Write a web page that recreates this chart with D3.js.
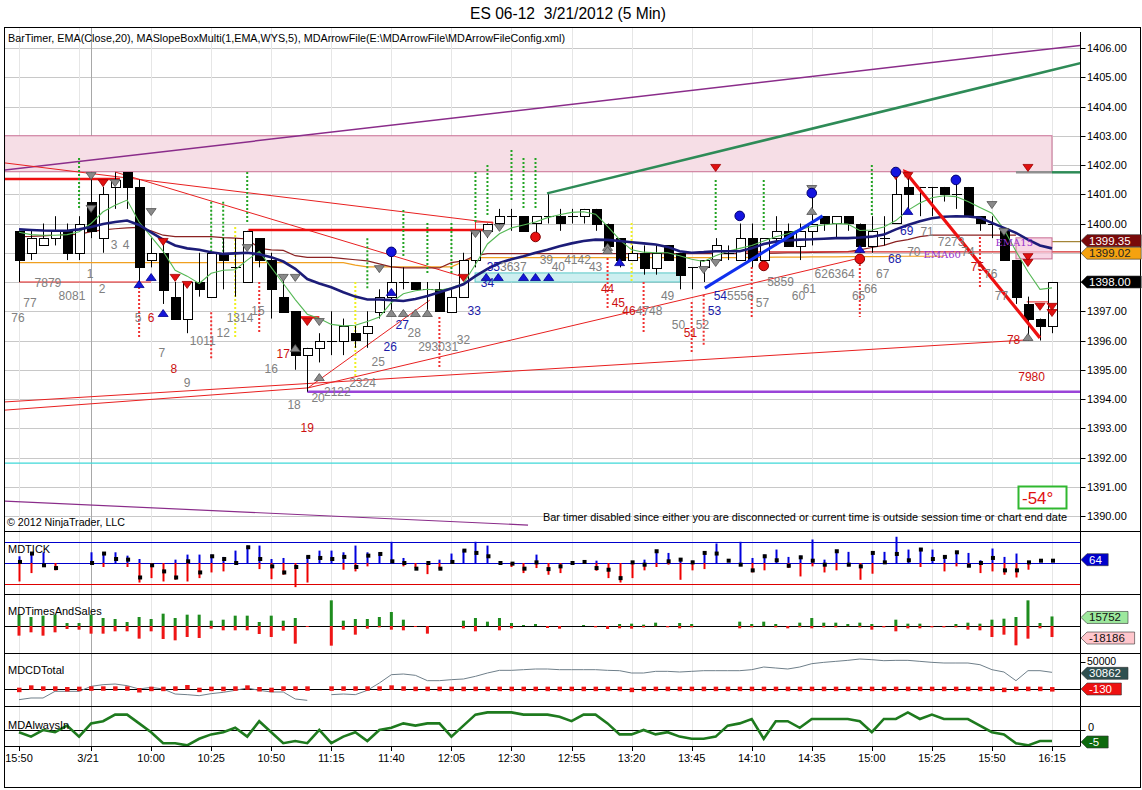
<!DOCTYPE html>
<html><head><meta charset="utf-8">
<script src="https://cdn.jsdelivr.net/npm/d3@7/dist/d3.min.js"></script>
<style>body{margin:0;background:#fff}svg{display:block;font-family:"Liberation Sans",Arial,sans-serif}</style>
</head><body><svg id="c" width="1142" height="790"></svg>
<script>
// ---------------- DATA ----------------
const tickIdx = [0,6,11,16,21,26,31,36,41,46,51,56,61,66,71,76,81,86];
const tickLbl = ["15:50","3/21","10:00","10:25","10:50","11:15","11:40","12:05","12:30","12:55","13:20","13:45","14:10","14:35","15:00","15:25","15:50","16:15"];
const gridIdx = [0,5,11,16,21,26,31,36,41,46,51,56,61,66,71,76,81,86];
const dayIdx = 6;
const priceTicks = [1390,1391,1392,1393,1394,1395,1396,1397,1398,1399,1400,1401,1402,1403,1404,1405,1406];
const priceLabelsHidden = [1398,1399];

const open  = [1399.75,1399.0,1399.25,1399.5,1399.75,1399.0,1400.75,1399.5,1401.25,1401.75,1401.25,1398.75,1399.0,1397.5,1396.75,1398.0,1397.5,1399.0,1398.5,1398.0,1399.5,1398.75,1397.5,1397.0,1395.5,1395.75,1396.0,1396.0,1396.25,1396.25,1397.0,1397.5,1398.0,1398.0,1397.75,1397.75,1397.0,1397.5,1398.75,1399.75,1400.0,1400.25,1400.25,1400.0,1400.25,1400.25,1400.25,1400.25,1400.5,1400.0,1399.5,1398.75,1399.0,1398.5,1399.25,1399.0,1398.5,1398.5,1398.75,1399.0,1398.75,1399.5,1398.75,1399.5,1399.75,1399.25,1399.75,1400.25,1400.0,1400.25,1400.0,1399.25,1399.5,1400.0,1401.25,1401.25,1401.25,1401.25,1401.0,1401.25,1400.25,1400.0,1399.75,1398.75,1397.25,1396.75,1396.5];
const high  = [1399.75,1399.75,1400.0,1400.25,1400.0,1400.25,1401.5,1401.25,1401.75,1401.75,1401.5,1399.5,1399.5,1398.0,1398.0,1399.0,1399.0,1399.5,1399.5,1399.75,1399.5,1399.0,1398.25,1397.0,1395.75,1396.25,1397.0,1396.75,1396.5,1397.0,1397.75,1399.0,1398.5,1398.0,1398.0,1398.0,1397.75,1399.0,1399.75,1400.0,1400.5,1400.5,1400.25,1400.25,1401.0,1400.5,1400.5,1400.5,1400.5,1400.0,1399.5,1399.25,1399.25,1399.25,1399.25,1399.0,1398.5,1398.75,1399.5,1399.25,1400.0,1400.0,1399.5,1400.25,1400.0,1400.0,1401.0,1400.25,1400.25,1400.25,1400.0,1400.25,1400.25,1401.75,1401.75,1401.25,1401.25,1401.25,1401.5,1401.25,1400.25,1400.25,1399.75,1398.75,1397.5,1396.75,1398.0];
const low   = [1398.0,1398.75,1399.25,1399.25,1398.75,1398.75,1399.5,1399.0,1400.5,1400.5,1398.0,1398.5,1397.25,1396.75,1396.25,1397.5,1397.5,1397.75,1397.5,1398.0,1398.5,1396.75,1397.0,1395.0,1394.25,1395.25,1395.5,1395.5,1395.75,1395.75,1396.75,1397.0,1397.75,1397.75,1397.0,1397.0,1397.0,1397.5,1398.5,1399.5,1399.75,1399.75,1399.75,1399.5,1400.0,1399.75,1400.0,1400.0,1399.75,1399.0,1398.5,1398.75,1398.25,1398.25,1398.75,1397.75,1397.75,1398.0,1398.75,1398.75,1398.75,1398.5,1398.5,1399.25,1399.25,1398.75,1399.25,1399.75,1399.5,1399.75,1399.0,1399.0,1399.25,1400.0,1400.5,1400.25,1400.25,1400.75,1400.5,1400.25,1399.75,1399.5,1398.75,1397.25,1396.0,1396.0,1396.25];
const close = [1398.75,1399.5,1399.5,1399.75,1399.0,1400.0,1399.75,1401.0,1401.5,1401.25,1398.5,1399.0,1397.75,1396.75,1398.0,1397.75,1399.0,1398.75,1398.5,1399.75,1398.75,1397.75,1397.0,1395.5,1395.75,1396.0,1396.0,1396.5,1396.0,1396.5,1397.5,1398.0,1398.0,1397.75,1397.75,1397.0,1397.5,1398.75,1399.75,1400.0,1400.25,1400.25,1399.75,1400.25,1400.25,1400.0,1400.25,1400.5,1400.0,1399.25,1398.75,1399.0,1398.5,1399.0,1398.75,1398.25,1398.5,1398.75,1399.25,1399.0,1399.5,1398.75,1399.5,1399.75,1399.25,1399.75,1400.0,1400.0,1400.25,1400.0,1399.25,1399.75,1399.5,1401.0,1401.0,1401.25,1401.25,1401.0,1401.0,1400.25,1400.0,1400.0,1398.75,1397.5,1396.75,1396.5,1398.0];

const emaSlow = [1399.80,1399.78,1399.76,1399.75,1399.75,1399.80,1399.88,1399.98,1400.05,1400.10,1399.95,1399.70,1399.45,1399.25,1399.15,1399.10,1399.02,1398.96,1398.98,1399.00,1398.95,1398.85,1398.70,1398.45,1398.10,1397.95,1397.82,1397.65,1397.50,1397.40,1397.40,1397.38,1397.35,1397.42,1397.52,1397.65,1397.78,1397.92,1398.20,1398.45,1398.65,1398.78,1398.88,1399.00,1399.10,1399.22,1399.32,1399.40,1399.45,1399.44,1399.40,1399.36,1399.32,1399.28,1399.20,1399.05,1399.00,1399.02,1399.05,1399.05,1399.05,1399.15,1399.30,1399.38,1399.42,1399.45,1399.46,1399.48,1399.50,1399.50,1399.52,1399.55,1399.62,1399.80,1399.95,1400.08,1400.18,1400.23,1400.25,1400.24,1400.20,1400.02,1399.85,1399.68,1399.45,1399.25,1399.15];
const emaFast = [1399.70,1399.62,1399.60,1399.60,1399.62,1399.72,1400.00,1400.40,1400.62,1400.80,1400.05,1399.55,1399.05,1398.40,1398.20,1397.95,1398.30,1398.40,1398.42,1398.75,1399.05,1398.50,1397.95,1397.40,1396.90,1396.75,1396.55,1396.50,1396.52,1396.65,1396.80,1397.30,1397.60,1397.70,1397.75,1397.72,1397.80,1397.95,1398.60,1399.30,1399.65,1399.85,1399.95,1400.05,1400.20,1400.30,1400.38,1400.40,1400.32,1399.90,1399.45,1399.10,1399.02,1399.00,1399.00,1398.90,1398.78,1398.70,1398.90,1399.05,1399.15,1399.25,1399.40,1399.55,1399.65,1399.80,1399.90,1399.95,1400.00,1399.98,1399.76,1399.78,1399.88,1400.10,1400.45,1400.70,1400.88,1400.95,1400.92,1400.75,1400.55,1400.35,1399.80,1399.05,1398.35,1397.75,1397.80];
const maroonLine = [1399.55,1399.56,1399.58,1399.60,1399.62,1399.63,1399.72,1399.78,1399.82,1399.85,1399.87,1399.75,1399.60,1399.55,1399.55,1399.55,1399.55,1399.52,1399.50,1399.47,1399.15,1399.10,1399.08,1398.90,1398.84,1398.84,1398.84,1398.80,1398.76,1398.72,1398.62,1398.52,1398.48,1398.48,1398.48,1398.48,1398.66,1398.72,1398.90,1398.97,1398.97,1398.97,1398.97,1398.97,1398.97,1398.97,1398.97,1398.97,1398.97,1398.97,1398.97,1398.97,1398.97,1398.97,1398.97,1398.97,1398.97,1398.97,1398.97,1398.97,1398.97,1398.98,1398.98,1398.99,1399.00,1399.00,1399.01,1399.02,1399.03,1399.04,1399.10,1399.18,1399.25,1399.38,1399.45,1399.55,1399.60,1399.60,1399.60,1399.60,1399.60,1399.60,1399.60,1399.60,null,null,null];
const orangeLine = [1398.66,1398.66,1398.66,1398.66,1398.66,1398.66,1398.66,1398.66,1398.66,1398.66,1398.66,1398.66,1398.66,1398.66,1398.66,1398.66,1398.66,1398.66,1398.66,1398.66,1398.66,1398.66,1398.66,1398.66,1398.66,1398.66,1398.66,1398.66,1398.58,1398.52,1398.52,1398.52,1398.52,1398.52,1398.52,1398.52,1398.52,1398.70,1398.83,1398.83,1398.83,1398.83,1398.83,1398.83,1398.83,1398.83,1398.83,1398.83,1398.83,1398.83,1398.83,1398.83,1398.83,1398.83,1398.83,1398.83,1398.83,1398.83,1398.83,1398.83,1398.83,1398.84,1398.84,1398.85,1398.85,1398.85,1398.86,1398.86,1398.86,1398.87,1398.87,1398.87,1398.87,1398.88,1398.88,1398.88,1398.88,1398.88];
const redLevel = {from:60, to:86, price:1399.03};

// MDTICK
const tickHi = [320,510,510,0,null,null,510,510,510,350,190,0,0,160,400,400,400,290,590,830,830,190,240,0,350,590,590,510,830,510,510,1010,240,0,0,160,450,640,1010,830,0,0,0,400,0,0,0,0,110,0,0,0,160,610,480,240,110,510,930,0,1010,240,400,640,290,350,1120,160,610,530,0,510,530,1250,640,720,640,320,560,480,130,690,290,450,0,0,0];
const tickLo = [-880,-480,0,-350,null,null,0,-190,0,-190,-930,-720,-880,-800,-880,-720,-450,-400,0,0,-290,-770,-560,-1150,-930,0,0,-320,-400,-160,0,0,-160,-240,-530,-290,0,0,0,0,0,-190,-480,-240,-560,-480,0,0,-370,-720,-930,-720,-350,-190,-80,-800,-350,-290,0,0,-130,-450,-350,0,-240,-640,-160,-450,-350,-160,-800,-510,0,0,0,-190,0,-400,-160,-190,-480,-400,-560,-690,-320,0,0];
const tickClose = [50,450,-110,-240,null,null,0,450,190,160,-690,-110,-400,-690,80,-450,320,190,0,750,190,-160,-450,-190,290,240,190,290,-190,350,430,80,0,-270,0,-270,50,590,480,320,0,-30,-270,30,-290,-160,0,50,-240,-320,-720,30,-80,560,80,160,30,480,450,110,-80,-350,320,130,-130,270,110,-80,560,-80,-160,480,30,430,130,640,190,290,510,-130,0,240,-350,-350,30,110,110];
// MDTimesAndSales
const tsBuy  = [18700,14850,17050,18700,4950,4950,18700,13200,11550,6600,14850,11550,20350,13200,18700,18700,8800,10450,17050,17050,6600,17050,8800,13200,0,0,42350,8800,11550,11550,14850,23100,10450,0,0,0,0,8800,13200,7150,13200,4950,1650,3300,0,0,0,1650,0,0,3300,3850,2200,5500,0,4950,3300,0,0,0,7150,3300,7150,3300,0,5500,13200,5500,5500,3300,5500,3300,0,10450,3850,3850,0,0,3300,5500,3850,10450,12100,14850,42350,4950,15752];
const tsSell = [-15950,-10450,-15950,-10450,-4950,-6050,-12650,-12650,-8800,-8800,-20900,-8800,-21450,-23650,-18150,-19800,-4400,-7150,-7150,-7150,-13200,-18150,-7700,-29150,-1650,0,-32450,-6050,-14300,-4400,-2200,-6050,-7150,-1650,-12650,0,0,-3850,-8800,0,-7150,-3850,0,0,-3300,-4400,0,0,-2200,-4950,-3850,-4400,-2200,-550,-2200,-3850,-2200,0,0,0,-3850,-2200,-550,-2200,-3850,-2200,-3850,-2200,-2200,-550,-2200,-6050,-2200,-8800,-3850,-3850,-2200,-2200,-2200,-6050,-7150,-18150,-14300,-31900,-20900,-3850,-18186];
// MDCDTotal
const cdTotal = [-19750,-16660,-16660,-4320,-4320,-4320,4940,8020,9260,6170,0,3090,0,-9260,-10490,-12340,-8640,-6170,-2470,1850,-2470,-5550,-5550,-18510,-20980,null,-10490,-9260,-10490,-2470,11110,26530,27770,25300,15430,15430,17280,18510,23450,29620,34550,34550,35790,37020,37020,35790,35790,35790,35790,34550,33940,29620,29620,32700,32700,31470,32700,33940,33940,33940,33940,35790,40720,38870,37020,40720,46890,49360,51210,53060,55530,54300,52450,53060,53060,51210,49360,48130,48130,48130,45040,35790,31470,15430,33940,33940,30862];
const cdDelta = [-1230,3090,1230,1230,0,620,1230,1230,1230,1230,-1850,620,620,1230,3700,-1230,620,620,1230,3090,0,-1230,1230,1230,1230,null,1230,1230,1230,1230,1230,3090,1230,620,620,620,620,620,620,620,620,620,620,620,620,620,620,620,620,620,620,-1230,620,620,620,620,620,620,620,620,620,620,620,620,620,620,620,620,620,620,620,620,620,620,620,620,620,620,620,620,620,620,-1230,620,620,620,-130];
// MDAlwaysIn
const alwaysIn = [-1,-3,0,-1,2,-3,3,4,7,7,3,-1,-6,-6,-7,-4,-2,-1,1,-3,4,-1,-6,-5,-6,0,-6,-3,-1,-5,0,1,3,2,3,3,-3,2,7,8,8,8,7,7,7,6,4,7,7,3,-2,-2,0,-2,-1,-3,-4,-4,-3,2,3,5,-4,4,4,1,5,5,5,5,4,-1,5,5,8,5,7,5,5,5,2,-1,-2,-6,-7,-5,-5];

// Signals [barIndex, price]
const dotsGreen = [[5,1402.24,1400.53],[16,1400.74,1399.03],[17,1400.74,1399.03],[19,1401.76,1400.05],[29,1399.50,1397.79],[32,1400.46,1398.82],[34,1400.02,1398.31],[36,1400.02,1398.31],[38,1401.76,1400.05],[39,1402.0,1400.29],[41,1402.51,1400.80],[42,1402.24,1400.53],[43,1402.24,1400.53],[58,1401.49,1399.78],[62,1401.49,1399.78],[71,1402.0,1400.29]];
const dotsRed = [[10,1397.83,1396.09],[16,1396.97,1395.33],[20,1398.0,1396.29],[35,1396.80,1395.09],[49,1398.82,1397.04],[52,1398.0,1396.29],[56,1397.32,1395.61],[57,1397.56,1395.85],[61,1398.51,1396.80],[70,1398.75,1396.80],[80,1399.54,1397.83]];
const dotsYellow = [[18,1399.88,1396.05],[28,1398.0,1394.75],[51,1400.02,1398.0]];
const blueDots = [[31,1399.03],[60,1400.26],[66,1401.04],[73,1401.76],[78,1401.49]];
const redDots = [[43,1399.54],[62,1398.55],[70,1398.79]];
const triDownGray = [[6,1401.62],[6,1400.50],[8,1401.38],[11,1400.39],[19,1399.16],[22,1398.14],[23,1398.14],[25,1396.63],[30,1398.44],[38,1399.64],[39,1399.64],[40,1399.85],[57,1398.41],[58,1398.65],[66,1401.18],[81,1400.63],[82,1399.71]];
const triDownRed = [[7,1401.38],[12,1399.37],[13,1398.14],[14,1397.90],[24,1396.63],[37,1398.14],[58,1401.90],[73,1401.62],[74,1401.62],[84,1401.90],[84,1398.85],[84,1398.65],[85,1397.15],[86,1397.15],[86,1396.94]];
const triUpBlue = [[10,1397.93],[11,1398.17],[12,1396.94],[31,1397.66],[50,1398.68],[70,1399.13],[74,1400.43],[38.9,1398.17],[39.9,1398.17],[42,1398.17],[43,1398.17],[44.1,1398.17]];
const triUpGray = [[23,1395.74],[25,1394.75],[31,1396.94],[32,1396.94],[33,1396.94],[34,1396.94],[49,1399.20],[49,1399.09],[66,1400.43],[84,1396.12]];

// bar-number labels [barIndex, price, [text,colour]...]
const barLabels = [
 [-0.08,1396.77,[["76","g"]]],[0.92,1397.28,[["77","g"]]],[2.41,1397.97,[["7879","g"]]],[4.41,1397.52,[["8081","g"]]],
 [5.91,1398.27,[["1","g"]]],[6.91,1397.76,[["2","g"]]],[7.91,1399.26,[["3","g"]]],[8.91,1399.26,[["4","g"]]],
 [9.91,1396.77,[["5","g"]]],[10.99,1396.77,[["6","r"]]],[11.9,1395.57,[["7","g"]]],[12.9,1395.03,[["8","r"]]],
 [14.0,1394.55,[["9","g"]]],[15.3,1395.98,[["1011","g"]]],[17.0,1396.26,[["12","g"]]],[18.4,1396.77,[["1314","g"]]],
 [19.9,1397.0,[["15","g"]]],[21.0,1395.03,[["16","g"]]],[22.0,1395.54,[["17","r"]]],[22.9,1393.8,[["18","g"]]],
 [24.0,1393.0,[["19","r"]]],[24.9,1394.03,[["20","g"]]],[26.5,1394.24,[["2122","g"]]],[28.6,1394.55,[["2324","g"]]],
 [29.9,1395.26,[["25","g"]]],[30.9,1395.78,[["26","b"]]],[31.9,1396.53,[["27","b"]]],[32.9,1396.26,[["28","g"]]],
 [34.9,1395.78,[["293031","g"]]],[37.0,1396.02,[["32","g"]]],[37.9,1397.0,[["33","b"]]],[39.0,1397.97,[["34","b"]]],
 [40.6,1398.51,[["35","b"],["3637","g"]]],[43.9,1398.75,[["39","g"]]],[44.9,1398.51,[["40","g"]]],[46.5,1398.75,[["4142","g"]]],
 [48.0,1398.51,[["43","g"]]],[49.0,1397.76,[["44","r"]]],[49.9,1397.28,[["45","r"]]],[51.9,1397.0,[["46","r"],["4748","g"]]],
 [54.0,1397.52,[["49","g"]]],[54.9,1396.53,[["50","g"]]],[55.9,1396.26,[["51","r"]]],[56.9,1396.53,[["52","g"]]],
 [57.9,1397.0,[["53","b"]]],[59.5,1397.52,[["54","b"],["5556","g"]]],[61.9,1397.28,[["57","g"]]],[63.4,1398.0,[["5859","g"]]],
 [64.9,1397.52,[["60","g"]]],[65.8,1397.76,[["61","g"]]],[67.9,1398.27,[["626364","g"]]],[69.9,1397.52,[["65","g"]]],
 [70.9,1397.76,[["66","g"]]],[71.9,1398.27,[["67","g"]]],[72.9,1398.79,[["68","b"]]],[73.9,1399.74,[["69","b"]]],
 [74.5,1399.03,[["70","g"]]],[75.6,1399.72,[["71","g"]]],[77.6,1399.36,[["7273","g"]]],[79.0,1399.03,[["74","g"]]],
 [79.8,1398.51,[["75","r"]]],[80.9,1398.27,[["76","g"]]],[81.8,1397.52,[["77","g"]]],[82.8,1396.02,[["78","r"]]],[84.3,1394.75,[["7980","r"]]]
];

// drawn objects [i1,p1,i2,p2]
const zoneTop = [-1.2,1403.0,86,1401.77];
const zoneSmall = [83,1399.51,86,1398.79];
const zoneCyan = [37.97,1398.31,55.04,1398.0];
const purpleTop = [-1.17,1401.83,88.35,1406.09];
const greenTop = [43.96,1401.03,88.35,1405.48];
const purpleLow = [-1.17,1390.51,42.38,1389.69];
const purpleLevel = [24.0,1394.25,88.35,1394.25];
const cyanLevel = [-1.17,1391.81,88.35,1391.81];
const redThick = [[-1.17,1401.52,8.4,1401.52],[19.1,1399.78,39.4,1399.78],[22.8,1396.79,25.0,1396.79]];
const redThin = [[0,1398.0,11,1398.0],[-1.17,1402.07,39.5,1400.02],[8,1401.76,37,1398.17],[-1.17,1393.62,24.06,1394.38],[-1.17,1393.9,83.9,1396.02],[24.06,1394.38,70.0,1398.82],[24.06,1394.38,34.2,1397.38],[83.9,1397.32,86,1397.32]];
const redArrow = [73.8,1401.76,85.0,1396.09];
const blueTrend = [57.1,1397.79,66.9,1400.26];
const greenLevel = [83,1401.75,88.35,1401.75];
const redBox = [38,1400.05,39.4,1399.78];

// ---------------- DRAW ----------------
const svg = d3.select("#c");
const L = 4.5, R = 1080.5, FR = 1140.5;
const xS = d3.scaleLinear().domain([0,86]).range([19,1052]);
const yP = d3.scaleLinear().domain([1390,1406]).range([516,48]);
const tickY = d3.scaleLinear().domain([-1000,1000]).range([584,542]);
const tsY = d3.scaleLinear().domain([-50000,50000]).range([656.3,595.7]);
const cdY = d3.scaleLinear().domain([0,50000]).range([689,662]);
const aiY = d3.scaleLinear().domain([-10,10]).range([752,708]);
const px = v => Math.round(v)+0.5;

svg.append("text").attr("x",568).attr("y",19).attr("text-anchor","middle").attr("font-size",16)
  .attr("textLength",196).attr("lengthAdjust","spacingAndGlyphs").style("white-space","pre").text("ES 06-12\u00a0\u00a03/21/2012 (5 Min)");

const defs = svg.append("defs");
defs.append("clipPath").attr("id","cm").append("rect").attr("x",5).attr("y",28).attr("width",1075).attr("height",502);
const panels = [[531,594],[594,653],[653,706],[706,746]];

// grid
const grid = svg.append("g");
grid.selectAll("line.h").data(priceTicks).join("line")
  .attr("x1",L).attr("x2",R).attr("y1",d=>px(yP(d))).attr("y2",d=>px(yP(d))).attr("stroke","#c8c8c8");
const vspans = [[28,531]].concat(panels);
vspans.forEach(([a,b])=>{
  grid.selectAll(null).data(gridIdx).join("line")
    .attr("x1",d=>px(xS(d))).attr("x2",d=>px(xS(d))).attr("y1",a).attr("y2",b).attr("stroke","#e6e6e6");
});
grid.append("line").attr("x1",px(xS(dayIdx))).attr("x2",px(xS(dayIdx))).attr("y1",28).attr("y2",746).attr("stroke","#a8a8a8");

const m = svg.append("g").attr("clip-path","url(#cm)");
const seg = (g,d,col,w)=>g.append("line").attr("x1",xS(d[0])).attr("y1",yP(d[1])).attr("x2",xS(d[2])).attr("y2",yP(d[3])).attr("stroke",col).attr("stroke-width",w);
const box = (g,d,fill,stroke)=>g.append("rect").attr("x",xS(d[0])).attr("y",yP(d[1])).attr("width",xS(d[2])-xS(d[0])).attr("height",yP(d[3])-yP(d[1])).attr("fill",fill).attr("stroke",stroke);

box(m,zoneTop,"#f6dee6","#c86e92");
box(m,zoneCyan,"#cdeff0","#58c8c8");
seg(m,cyanLevel,"#3fd8d8",1.2);
seg(m,purpleLow,"#8a2c8a",1.2);
seg(m,purpleTop,"#8a2c8a",1.5);
seg(m,greenTop,"#2e8b57",2.5);
seg(m,purpleLevel,"#9a44d8",2.5);
redThin.forEach(d=>seg(m,d,"#e82020",1));
redThick.forEach(d=>seg(m,d,"#ee1010",2.5));
box(m,redBox,"none","#e82020");
seg(m,[greenLevel[0],greenLevel[1],86,greenLevel[3]],"#909090",2.5);
seg(m,[86,greenLevel[1],greenLevel[2],greenLevel[3]],"#2e8b57",2.5);

// MA lines
const lineGen = arr => d3.line().defined(d=>d!=null).x((d,i)=>xS(i)).y(d=>yP(d))(arr);
m.append("path").attr("d",lineGen(orangeLine)).attr("fill","none").attr("stroke","#f0a020").attr("stroke-width",1.2);
m.append("path").attr("d",lineGen(maroonLine)).attr("fill","none").attr("stroke","#8b2222").attr("stroke-width",1.2);
seg(m,[redLevel.from,redLevel.price,88.35,redLevel.price],"#d42a2a",1.2);
seg(m,[86,1399.38,88.35,1399.38],"#a08030",1.2);
box(m,zoneSmall,"rgba(246,200,220,0.75)","#c86e92");

// dotted signal lines
const dots = (arr,col)=>m.selectAll(null).data(arr).join("line")
  .attr("x1",d=>xS(d[0])).attr("x2",d=>xS(d[0])).attr("y1",d=>yP(d[1])).attr("y2",d=>yP(d[2]))
  .attr("stroke",col).attr("stroke-width",2).attr("stroke-dasharray","2,2");
dots(dotsGreen,"#22a322"); dots(dotsRed,"#f03030"); dots(dotsYellow,"#f0f020");

// candles
const idx = d3.range(open.length);
m.selectAll("line.w").data(idx).join("line")
  .attr("x1",i=>px(xS(i))).attr("x2",i=>px(xS(i))).attr("y1",i=>yP(high[i])).attr("y2",i=>yP(low[i])).attr("stroke","#000");
m.selectAll("rect.b").data(idx).join("rect")
  .attr("x",i=>Math.round(xS(i))-4+0.5).attr("width",9)
  .attr("y",i=>Math.round(yP(Math.max(open[i],close[i])))+0.5)
  .attr("height",i=>Math.max(0.01,Math.round(Math.abs(yP(open[i])-yP(close[i])))))
  .attr("fill",i=>close[i]>open[i]?"#fff":"#000").attr("stroke","#000");

m.append("path").attr("d",lineGen(emaFast)).attr("fill","none").attr("stroke","#55b855").attr("stroke-width",1.1);
m.append("path").attr("d",lineGen(emaSlow)).attr("fill","none").attr("stroke","#1c1c78").attr("stroke-width",2.6);

// trend lines
seg(m,blueTrend,"#1030ee",3);
seg(m,redArrow,"#ee1010",3.2);
m.append("path").attr("transform",`translate(${xS(redArrow[0])},${yP(redArrow[1])}) rotate(${Math.atan2(yP(redArrow[1])-yP(redArrow[3]),xS(redArrow[0])-xS(redArrow[2]))*180/Math.PI})`)
  .attr("d","M4,0 L-4,-4 L-4,4 Z").attr("fill","#ee1010");

// triangles and dots
const tri = (arr,dir,fill,stroke)=>m.selectAll(null).data(arr).join("path")
  .attr("transform",d=>`translate(${xS(d[0])},${yP(d[1])})`)
  .attr("d",dir<0?"M-5,-3.5 L5,-3.5 L0,3.5 Z":"M-5,3.5 L5,3.5 L0,-3.5 Z").attr("fill",fill).attr("stroke",stroke).attr("stroke-width",0.8);
tri(triDownGray,-1,"#8a8a8a","#505050"); tri(triUpGray,1,"#8a8a8a","#505050");
tri(triDownRed,-1,"#e01010","#a00000"); tri(triUpBlue,1,"#1515d8","#000090");
m.selectAll(null).data(blueDots).join("circle").attr("cx",d=>xS(d[0])).attr("cy",d=>yP(d[1])).attr("r",4.8).attr("fill","#1414e0").attr("stroke","#000070");
m.selectAll(null).data(redDots).join("circle").attr("cx",d=>xS(d[0])).attr("cy",d=>yP(d[1])).attr("r",4.8).attr("fill","#e81010").attr("stroke","#800000");

// bar number labels
const lc = {g:"#808080",r:"#cc1010",b:"#1a1aa8"};
const lt = m.selectAll(null).data(barLabels).join("text")
  .attr("x",d=>xS(d[0])).attr("y",d=>yP(d[1])+4).attr("text-anchor","middle").attr("font-size",12);
lt.each(function(d){ d3.select(this).selectAll("tspan").data(d[2]).join("tspan").attr("fill",t=>lc[t[1]]).text(t=>t[0]); });

m.append("text").attr("x",xS(75.3)).attr("y",yP(1398.97)+4).attr("font-family","DejaVu Serif").attr("font-size",10).attr("fill","#9932cc").text("EMA60");
m.append("text").attr("x",xS(81.3)).attr("y",yP(1399.38)+4).attr("font-family","DejaVu Serif").attr("font-size",10).attr("fill","#9932cc").text("EMA15");

// texts
svg.append("text").attr("x",8).attr("y",42).attr("font-size",11).attr("textLength",557).attr("lengthAdjust","spacingAndGlyphs")
  .text("BarTimer, EMA(Close,20), MASlopeBoxMulti(1,EMA,WYS,5), MDArrowFile(E:\\MDArrowFile\\MDArrowFileConfig.xml)");
svg.append("text").attr("x",7).attr("y",526).attr("font-size",11).attr("textLength",118).attr("lengthAdjust","spacingAndGlyphs").text("© 2012 NinjaTrader, LLC");
svg.append("text").attr("x",543).attr("y",521).attr("font-size",11).attr("textLength",524).attr("lengthAdjust","spacingAndGlyphs")
  .text("Bar timer disabled since either you are disconnected or current time is outside session time or chart end date");
svg.append("rect").attr("x",1018.5).attr("y",486.5).attr("width",48).attr("height",22).attr("fill","#fff").attr("stroke","#30b830").attr("stroke-width",2);
svg.append("text").attr("x",1022).attr("y",504).attr("font-size",17).attr("fill","#e01010").text("-54°");

// price axis
const ax = svg.append("g");
ax.selectAll(null).data(priceTicks).join("line").attr("x1",R).attr("x2",R+5).attr("y1",d=>px(yP(d))).attr("y2",d=>px(yP(d))).attr("stroke","#000");
ax.selectAll(null).data(priceTicks.filter(p=>!priceLabelsHidden.includes(p))).join("text").attr("x",1087).attr("y",d=>yP(d)+4).attr("font-size",11).text(d=>d.toFixed(2));

// ----- indicator panels -----
const ip = svg.append("g");
// MDTICK
ip.append("line").attr("x1",L).attr("x2",R).attr("y1",px(tickY(1000))).attr("y2",px(tickY(1000))).attr("stroke","#0000cc");
ip.append("line").attr("x1",L).attr("x2",R).attr("y1",px(tickY(0))).attr("y2",px(tickY(0))).attr("stroke","#0000cc");
ip.append("line").attr("x1",L).attr("x2",R).attr("y1",px(tickY(-1000))).attr("y2",px(tickY(-1000))).attr("stroke","#dd0000");
const tI = idx.filter(i=>tickHi[i]!=null);
ip.selectAll(null).data(tI.filter(i=>tickHi[i]>0)).join("line").attr("x1",i=>px(xS(i))).attr("x2",i=>px(xS(i)))
  .attr("y1",tickY(0)).attr("y2",i=>tickY(tickHi[i])).attr("stroke","#0000dd").attr("stroke-width",2);
ip.selectAll(null).data(tI.filter(i=>tickLo[i]<0)).join("line").attr("x1",i=>px(xS(i))).attr("x2",i=>px(xS(i)))
  .attr("y1",tickY(0)).attr("y2",i=>tickY(tickLo[i])).attr("stroke","#ee0000").attr("stroke-width",2);
ip.selectAll(null).data(tI).join("rect").attr("x",i=>xS(i)-1).attr("y",i=>tickY(tickClose[i])-2).attr("width",4).attr("height",4).attr("fill","#000");
// T&S
ip.append("line").attr("x1",L).attr("x2",R).attr("y1",px(tsY(0))).attr("y2",px(tsY(0))).attr("stroke","#000");
ip.selectAll(null).data(idx.filter(i=>tsBuy[i]>0)).join("rect").attr("x",i=>xS(i)-1.5).attr("width",3)
  .attr("y",i=>tsY(tsBuy[i])).attr("height",i=>tsY(0)-tsY(tsBuy[i])).attr("fill","#1e8c1e");
ip.selectAll(null).data(idx.filter(i=>tsSell[i]<0)).join("rect").attr("x",i=>xS(i)-1.5).attr("width",3)
  .attr("y",tsY(0)).attr("height",i=>tsY(tsSell[i])-tsY(0)).attr("fill","#ee1515");
// CD
ip.append("line").attr("x1",L).attr("x2",R).attr("y1",px(cdY(0))).attr("y2",px(cdY(0))).attr("stroke","#000");
ip.append("path").attr("d",d3.line().defined(d=>d!=null).x((d,i)=>xS(i)).y(d=>cdY(d))(cdTotal)).attr("fill","none").attr("stroke","#6f7f8a").attr("stroke-width",1);
ip.selectAll(null).data(idx.filter(i=>cdDelta[i]!=null)).join("rect").attr("x",i=>xS(i)-2).attr("y",i=>cdY(cdDelta[i])-2).attr("width",4.5).attr("height",4.5).attr("fill","#ee1515");
// AlwaysIn
ip.append("line").attr("x1",L).attr("x2",R).attr("y1",px(aiY(0))).attr("y2",px(aiY(0))).attr("stroke","#000");
ip.append("path").attr("d",d3.line().x((d,i)=>xS(i)).y(d=>aiY(d))(alwaysIn)).attr("fill","none").attr("stroke","#1e7a1e").attr("stroke-width",2.6);

// panel labels
[["MDTICK",553],["MDTimesAndSales",615],["MDCDTotal",674],["MDAlwaysIn",729]].forEach(([t,y])=>
  svg.append("text").attr("x",8).attr("y",y).attr("font-size",11).text(t));

// frame / separators
const fr = svg.append("g").attr("stroke","#000").attr("fill","none");
fr.append("rect").attr("x",L).attr("y",27.5).attr("width",FR-L).attr("height",760);
[531,594,653,706].forEach(y=>fr.append("line").attr("x1",L).attr("x2",FR).attr("y1",y+0.5).attr("y2",y+0.5));
fr.append("line").attr("x1",R).attr("x2",R).attr("y1",32).attr("y2",746);
fr.append("line").attr("x1",L).attr("x2",R).attr("y1",746.5).attr("y2",746.5);

// time axis
svg.selectAll(null).data(tickIdx).join("line").attr("x1",i=>px(xS(i))).attr("x2",i=>px(xS(i))).attr("y1",746).attr("y2",751).attr("stroke","#000");
svg.selectAll(null).data(tickIdx).join("text").attr("x",(i,k)=>xS(i)-(k===1?3:0)).attr("y",762).attr("text-anchor","middle").attr("font-size",11).text((i,k)=>tickLbl[k]);

// indicator axis labels
svg.append("line").attr("x1",R).attr("x2",R+5).attr("y1",px(cdY(50000))).attr("y2",px(cdY(50000))).attr("stroke","#000");
svg.append("text").attr("x",1087).attr("y",cdY(50000)+3).attr("font-size",10.5).text("50000");
svg.append("line").attr("x1",R).attr("x2",R+5).attr("y1",px(aiY(0))).attr("y2",px(aiY(0))).attr("stroke","#000");
svg.append("text").attr("x",1088).attr("y",aiY(0)+1).attr("font-size",11).text("0");

// value tags
function tag(y,text,bg,fg){
  const w = 8 + text.length*6.6;
  svg.append("path").attr("d",`M1081,${y} L1087,${y-6} L${1087+w},${y-6} L${1087+w},${y+6} L1087,${y+6} Z`).attr("fill",bg).attr("stroke","#333").attr("stroke-width",0.6);
  svg.append("text").attr("x",1089).attr("y",y+4).attr("font-size",11.5).attr("fill",fg).text(text);
}
tag(yP(1399.02)+1,"1399.02","#f5a210","#222");
tag(yP(1399.38)-1,"1399.35","#7a0a0a","#fff");
tag(yP(close[86]),"1398.00","#000","#fff");
tag(tickY(tickClose[86])-1,"64","#0000cc","#fff");
tag(tsY(tsBuy[86])+1,"15752","#9de89d","#111");
tag(tsY(tsSell[86])+1,"-18186","#ffc6cc","#111");
tag(cdY(cdTotal[86])+1,"30862","#2f4f4f","#fff");
tag(cdY(0),"-130","#ee1111","#fff");
tag(aiY(alwaysIn[86])+1,"-5","#0e6a0e","#fff");
</script></body></html>
